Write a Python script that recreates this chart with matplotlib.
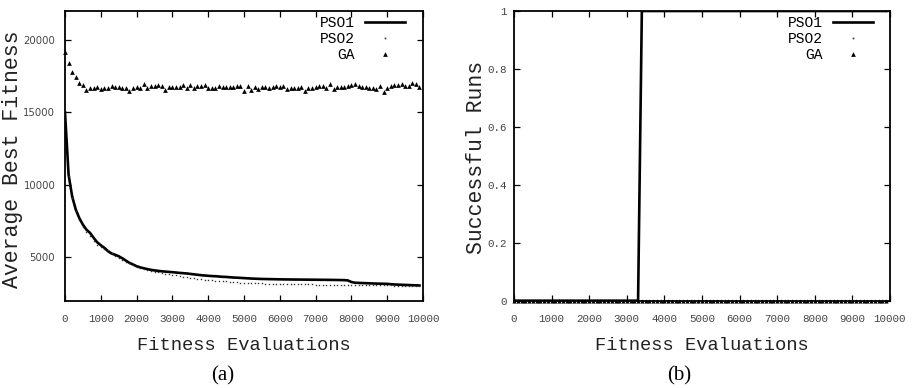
import matplotlib
matplotlib.use("Agg")
import matplotlib.pyplot as plt
from matplotlib.lines import Line2D

# ---------------- data ----------------
evals = list(range(0, 10000, 100))

pso1_fit = [15000, 10700, 9200, 8300, 7700, 7250, 6900, 6680, 6340, 6030,
            5830, 5650, 5420, 5260, 5170, 5070, 4930, 4770, 4610, 4500,
            4380, 4300, 4240, 4180, 4130, 4090, 4060, 4030, 4010, 3990,
            3970, 3945, 3920, 3900, 3880, 3850, 3820, 3790, 3760, 3740,
            3720, 3700, 3690, 3670, 3650, 3640, 3620, 3600, 3590, 3575,
            3560, 3545, 3530, 3520, 3510, 3500, 3495, 3490, 3485, 3480,
            3475, 3470, 3468, 3465, 3462, 3460, 3458, 3455, 3452, 3450,
            3448, 3445, 3442, 3440, 3437, 3434, 3430, 3425, 3420, 3400,
            3290, 3240, 3230, 3220, 3210, 3200, 3190, 3180, 3175, 3170,
            3160, 3140, 3120, 3110, 3100, 3090, 3080, 3070, 3060, 3050]

pso2_fit = [15000, 10600, 9100, 8200, 7600, 7100, 6750, 6450, 6100, 5870,
            5710, 5600, 5480, 5300, 5120, 4980, 4840, 4700, 4570, 4470,
            4300, 4230, 4170, 4110, 4060, 4000, 3950, 3900, 3860, 3820,
            3780, 3740, 3700, 3660, 3620, 3580, 3550, 3520, 3490, 3460,
            3430, 3410, 3390, 3370, 3350, 3330, 3310, 3290, 3270, 3255,
            3240, 3230, 3220, 3210, 3200, 3190, 3185, 3180, 3175, 3170,
            3165, 3160, 3155, 3150, 3145, 3140, 3135, 3130, 3125, 3120,
            3115, 3110, 3105, 3100, 3095, 3090, 3085, 3080, 3078, 3075,
            3072, 3070, 3068, 3066, 3064, 3062, 3060, 3058, 3056, 3054,
            3052, 3050, 3048, 3046, 3044, 3042, 3040, 3038, 3036, 3034]

ga_fit = [19200, 18390, 17770, 17470, 17010, 16900, 16560, 16670, 16670, 16740,
          16620, 16710, 16670, 16830, 16760, 16760, 16650, 16650, 16510, 16690,
          16760, 16710, 16950, 16710, 16810, 16810, 16920, 16830, 16580, 16740,
          16740, 16740, 16760, 16880, 16650, 16920, 16670, 16830, 16850, 16920,
          16710, 16710, 16710, 16830, 16740, 16740, 16740, 16740, 16830, 16830,
          16490, 16830, 16550, 16740, 16620, 16760, 16740, 16690, 16760, 16830,
          16740, 16850, 16600, 16710, 16710, 16690, 16780, 16510, 16650, 16690,
          16740, 16810, 16810, 16710, 16950, 16620, 16780, 16780, 16740, 16810,
          16880, 16990, 16830, 16740, 16740, 16710, 16650, 16620, 16830, 16440,
          16690, 16850, 16900, 16880, 16950, 16830, 16810, 17060, 16970, 16760]

pso1_succ = [0, 0, 0, 0, 0, 0, 0, 0, 0, 0, 0, 0, 0, 0, 0, 0, 0, 0, 0, 0,
             0, 0, 0, 0, 0, 0, 0, 0, 0, 0, 0, 0, 0, 0, 1, 1, 1, 1, 1, 1,
             1, 1, 1, 1, 1, 1, 1, 1, 1, 1, 1, 1, 1, 1, 1, 1, 1, 1, 1, 1,
             1, 1, 1, 1, 1, 1, 1, 1, 1, 1, 1, 1, 1, 1, 1, 1, 1, 1, 1, 1,
             1, 1, 1, 1, 1, 1, 1, 1, 1, 1, 1, 1, 1, 1, 1, 1, 1, 1, 1, 1]
pso2_succ = [0] * 100
ga_succ = [0] * 100

series_names = ["PSO1", "PSO2", "GA"]
x_ticks = [0, 1000, 2000, 3000, 4000, 5000, 6000, 7000, 8000, 9000, 10000]
left_yticks = [5000, 10000, 15000, 20000]
right_yticks = [0, 0.2, 0.4, 0.6, 0.8, 1]
right_yticklabels = ["0", "0.2", "0.4", "0.6", "0.8", "1"]

# ---------------- figure ----------------
W, H = 916, 388
fig = plt.figure(figsize=(W / 100, H / 100), dpi=100)

MONO = "Liberation Mono"
SERIF = "Liberation Serif"
tick_col = "#444444"


def px_rect(x0, x1, ytop, ybot):
    return [x0 / W, 1 - ybot / H, (x1 - x0) / W, (ybot - ytop) / H]


axL = fig.add_axes(px_rect(65, 423, 11, 300.7))
axR = fig.add_axes(px_rect(514, 890, 11, 300.7))

for ax in (axL, axR):
    for s in ax.spines.values():
        s.set_linewidth(1.3)
        s.set_color("black")
    ax.tick_params(direction="in", length=4, width=0.9, top=True, right=True,
                   colors="black", labelcolor=tick_col)
    ax.set_xlim(0, 10000)
    ax.set_xticks(x_ticks)
    ax.set_xticklabels([str(t) for t in x_ticks], family=MONO, fontsize=7.8)
    ax.tick_params(axis="x", pad=9.5)

# left panel
axL.plot(evals, pso1_fit, color="black", lw=1.9, solid_joinstyle="round")
axL.plot(evals, pso2_fit, ls="none", marker="s", ms=1.0, mew=0,
         color="#333333")
axL.plot(evals, ga_fit, ls="none", marker="^", ms=3.4, mew=0, color="black",
         clip_on=False)
axL.set_ylim(2000, 22000)
axL.set_yticks(left_yticks)
axL.set_yticklabels([str(t) for t in left_yticks], family="DejaVu Sans",
                    fontsize=7.3)
axL.tick_params(axis="y", pad=7)

# right panel
axR.plot(evals, pso1_succ, color="black", lw=1.9)
axR.plot(evals, pso2_succ, ls="none", marker="s", ms=1.0, mew=0,
         color="#333333", clip_on=False)
axR.plot(evals, ga_succ, ls="none", marker="^", ms=3.0, mew=0, color="black",
         clip_on=False)
axR.set_ylim(0, 1)
axR.set_yticks(right_yticks)
axR.set_yticklabels(right_yticklabels, family=MONO, fontsize=7.8)
axR.tick_params(axis="y", pad=5)

# legends
handles = [Line2D([], [], color="black", lw=1.9),
           Line2D([], [], ls="none", marker="s", ms=1.2, mew=0, color="#333333"),
           Line2D([], [], ls="none", marker="^", ms=3.4, mew=0, color="black")]
for ax, bx in ((axL, 0.95), (axR, 0.955)):
    ax.legend(handles, series_names, loc="upper right",
              bbox_to_anchor=(bx, 0.982), frameon=False, markerfirst=False,
              prop={"family": MONO, "size": 10.5}, handlelength=2.75,
              handletextpad=0.68, labelspacing=0.12, borderaxespad=0,
              borderpad=0)

# axis labels and captions
lab_col = "#222222"
fig.text(13 / W, 1 - 159 / H, "Average Best Fitness", rotation=90,
         ha="center", va="center", family=MONO, fontsize=15.5, color=lab_col)
fig.text(476 / W, 1 - 157 / H, "Successful Runs", rotation=90,
         ha="center", va="center", family=MONO, fontsize=15.5, color=lab_col)
fig.text(244 / W, 1 - 345 / H, "Fitness Evaluations", ha="center",
         va="center", family=MONO, fontsize=13.5, color=lab_col)
fig.text(702 / W, 1 - 345 / H, "Fitness Evaluations", ha="center",
         va="center", family=MONO, fontsize=13.5, color=lab_col)
fig.text(223 / W, 1 - 376 / H, "(a)", ha="center", va="center",
         family=SERIF, fontsize=15, color="black")
fig.text(679 / W, 1 - 376 / H, "(b)", ha="center", va="center",
         family=SERIF, fontsize=15, color="black")

fig.savefig("out.png", dpi=100)
